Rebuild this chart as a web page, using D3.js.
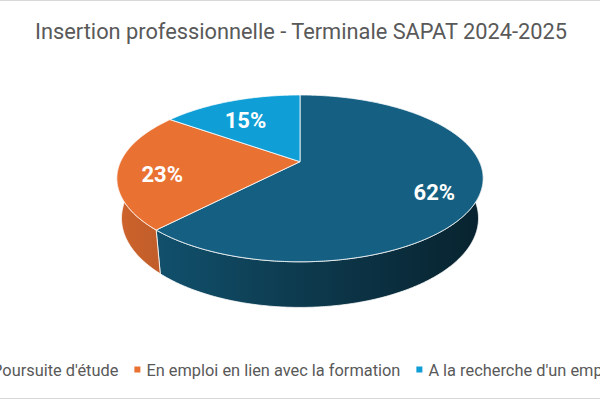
<!DOCTYPE html>
<html>
<head>
<meta charset="utf-8">
<script src="https://cdn.jsdelivr.net/npm/d3@7"></script>
<style>
  body { margin: 0; background: #fff; }
  svg { display: block; font-family: Roboto, "Noto Sans", sans-serif; }
</style>
</head>
<body>
<div id="chart"></div>
<script>
// data
const categories = ["Poursuite d'étude", "En emploi en lien avec la formation", "A la recherche d'un emploi"];
const values = [62, 23, 15];
const colors = ["#156082", "#E97132", "#0F9ED5"];
const title = "Insertion professionnelle - Terminale SAPAT 2024-2025";

const width = 600, height = 400;

const svg = d3.select("#chart").append("svg")
    .attr("width", width)
    .attr("height", height);

// light frame of the chart area
svg.append("rect")
    .attr("x", -1).attr("y", 0.5)
    .attr("width", width + 2).attr("height", height - 2)
    .attr("fill", "none")
    .attr("stroke", "#d9d9d9");

// simple perspective camera looking down on a unit disk
const tilt = 26.5 * Math.PI / 180;
const sinT = Math.sin(tilt), cosT = Math.cos(tilt);
const camDist = 4.475, focal = 803, thickness = 0.25;
const cx = 300, cy = 161.7;

function project(a, r, h) {
    const x = r * Math.sin(a), z = -r * Math.cos(a), y = -h;
    const dd = camDist - sinT * y - cosT * z;
    const yc = cosT * y - sinT * z;
    return [cx + focal * x / dd, cy - focal * yc / dd];
}

function arcSamples(a0, a1) {
    const step = Math.PI / 360;
    const pts = d3.range(a0, a1, step);
    pts.push(a1);
    return pts;
}

const pie = d3.pie().sort(null).value(d => d);
const slices = pie(values);
const line = d3.line();

// shading of the side walls, lighter on the left
const defs = svg.append("defs");
const shade = [[0, 0.88], [0.2, 0.78], [0.5, 0.6], [1, 0.36]];
colors.forEach((col, i) => {
    const g = defs.append("linearGradient")
        .attr("id", "side" + i)
        .attr("gradientUnits", "userSpaceOnUse")
        .attr("x1", cx - focal / camDist).attr("x2", cx + focal / camDist)
        .attr("y1", 0).attr("y2", 0);
    const base = d3.rgb(col);
    shade.forEach(([t, f]) => {
        g.append("stop")
            .attr("offset", t)
            .attr("stop-color", d3.rgb(base.r * f, base.g * f, base.b * f).formatHex());
    });
});

// side walls (only the front half can be seen)
slices.forEach((d, i) => {
    const a0 = Math.max(d.startAngle, Math.PI / 2);
    const a1 = Math.min(d.endAngle, 3 * Math.PI / 2);
    if (a1 <= a0) return;
    const angs = arcSamples(a0, a1);
    const pts = angs.map(a => project(a, 1, 0))
        .concat(angs.slice().reverse().map(a => project(a, 1, thickness)));
    svg.append("path")
        .attr("d", line(pts) + "Z")
        .attr("fill", `url(#side${i})`)
        .attr("stroke", "#fff")
        .attr("stroke-width", 0.8)
        .attr("stroke-linejoin", "round");
});

// top faces
slices.forEach((d, i) => {
    const pts = [project(0, 0, 0)].concat(arcSamples(d.startAngle, d.endAngle).map(a => project(a, 1, 0)));
    svg.append("path")
        .attr("d", line(pts) + "Z")
        .attr("fill", colors[i])
        .attr("stroke", "#fff")
        .attr("stroke-width", 0.8)
        .attr("stroke-linejoin", "round");
});

// percentage labels
const total = d3.sum(values);
slices.forEach((d, i) => {
    const p = project((d.startAngle + d.endAngle) / 2, 0.76, 0);
    svg.append("text")
        .attr("x", p[0])
        .attr("y", p[1] + 7)
        .attr("text-anchor", "middle")
        .attr("dominant-baseline", "central")
        .attr("fill", "#fff")
        .attr("font-weight", "bold")
        .attr("font-size", 22)
        .text(Math.round(d.value / total * 100) + "%");
});

// title, squeezed a little to match the narrow original face
const titleText = svg.append("text")
    .attr("x", 301)
    .attr("y", 39)
    .attr("text-anchor", "middle")
    .attr("fill", "#595959")
    .attr("font-size", 22)
    .text(title);
const titleW = titleText.node().getComputedTextLength();
if (titleW > 532) {
    titleText.attr("textLength", 532).attr("lengthAdjust", "spacingAndGlyphs");
}

// legend, centred and allowed to run off the sides
const legendY = 375.5, markSize = 6, markGap = 6, itemGap = 16;
const legend = svg.append("g");
const texts = categories.map(name => legend.append("text")
    .attr("y", legendY)
    .attr("fill", "#595959")
    .attr("font-size", 17)
    .text(name));
const squeeze = Math.min(1, 254 / texts[1].node().getComputedTextLength());
const textW = texts.map(t => t.node().getComputedTextLength() * squeeze);
const totalW = d3.sum(textW) + categories.length * (markSize + markGap) + (categories.length - 1) * itemGap;
let xPos = width / 2 - totalW / 2;
categories.forEach((name, i) => {
    legend.append("rect")
        .attr("x", xPos)
        .attr("y", legendY - 9)
        .attr("width", markSize)
        .attr("height", markSize)
        .attr("fill", colors[i]);
    texts[i]
        .attr("x", xPos + markSize + markGap)
        .attr("textLength", textW[i])
        .attr("lengthAdjust", "spacingAndGlyphs");
    xPos += markSize + markGap + textW[i] + itemGap;
});
</script>
</body>
</html>
